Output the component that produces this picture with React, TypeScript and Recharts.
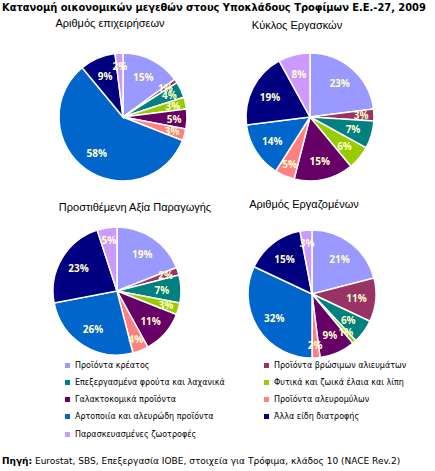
import { PieChart, Pie, Cell } from 'recharts';

const categories = [
  'Προϊόντα κρέατος',
  'Προϊόντα βρώσιμων αλιευμάτων',
  'Επεξεργασμένα φρούτα και λαχανικά',
  'Φυτικά και ζωικά έλαια και λίπη',
  'Γαλακτοκομικά προϊόντα',
  'Προϊόντα αλευρομύλων',
  'Αρτοποιία και αλευρώδη προϊόντα',
  'Άλλα είδη διατροφής',
  'Παρασκευασμένες ζωοτροφές',
];

const colors = ['#9999ff', '#993366', '#008080', '#99cc00', '#660066', '#ff8080', '#0066cc', '#000080', '#cc99ff'];

const firms = [15, 1, 4, 3, 5, 3, 58, 9, 2];
const turnover = [23, 3, 7, 6, 15, 5, 14, 19, 8];
const valueAdded = [19, 2, 7, 3, 11, 4, 26, 23, 5];
const employees = [21, 11, 6, 1, 9, 2, 32, 15, 3];

const panels = [
  { title: 'Αριθμός επιχειρήσεων', values: firms, cx: 118, cy: 112, tx: 110, ty: 23 },
  { title: 'Κύκλος Εργασκών', values: turnover, cx: 305, cy: 112, tx: 297, ty: 25 },
  { title: 'Προστιθέμενη Αξία Παραγωγής', values: valueAdded, cx: 112, cy: 286, tx: 135, ty: 207 },
  { title: 'Αριθμός Εργαζομένων', values: employees, cx: 307, cy: 289, tx: 304, ty: 204 },
];

const RADIAN = Math.PI / 180;
const R = 64;

const renderLabel = (p: any) => {
  // small slices get pushed towards the rim, like Excel's best fit
  const f = p.value <= 5 ? 0.8 : 0.7;
  const r = p.outerRadius * f;
  const x = p.cx + r * Math.cos(-p.midAngle * RADIAN);
  const y = p.cy + r * Math.sin(-p.midAngle * RADIAN);
  return (
    <text
      x={x}
      y={y}
      fill="#ffffcc"
      textAnchor="middle"
      dominantBaseline="central"
      style={{ fontFamily: 'Open Sans', fontWeight: 700, fontSize: 10 }}
    >
      {p.value}%
    </text>
  );
};

export default function App() {
  return (
    <div style={{ position: 'fixed', left: 0, top: 0, width: 435, height: 471, background: '#fff', fontFamily: 'DejaVu Sans' }}>
      <div style={{ position: 'absolute', left: 2, top: 2, fontSize: 9.9, fontWeight: 700, whiteSpace: 'nowrap', color: '#000' }}>
        Κατανομή οικονομικών μεγεθών στους Υποκλάδους Τροφίμων Ε.Ε.-27, 2009
      </div>
      {panels.map((pn) => (
        <div
          key={pn.title}
          style={{
            position: 'absolute',
            left: pn.tx - 100,
            top: pn.ty - 7,
            width: 200,
            textAlign: 'center',
            fontFamily: 'Liberation Sans',
            fontSize: 11,
            lineHeight: '14px',
            whiteSpace: 'nowrap',
          }}
        >
          {pn.title}
        </div>
      ))}
      <div style={{ position: 'absolute', left: 0, top: 0 }}>
        <PieChart width={435} height={360}>
          {panels.map((pn) => (
            <Pie
              key={pn.title}
              data={categories.map((name, i) => ({ name, value: pn.values[i] }))}
              dataKey="value"
              cx={pn.cx}
              cy={pn.cy}
              outerRadius={R}
              startAngle={90}
              endAngle={-270}
              stroke="#fff"
              strokeWidth={1.5}
              label={renderLabel}
              labelLine={false}
              isAnimationActive={false}
            >
              {categories.map((c, i) => (
                <Cell key={c} fill={colors[i]} />
              ))}
            </Pie>
          ))}
        </PieChart>
      </div>
      {categories.map((c, i) => {
        const col = i % 2;
        const row = Math.floor(i / 2);
        return (
          <div
            key={c}
            style={{
              position: 'absolute',
              left: col === 0 ? 65 : 264,
              top: 365 + row * 17.3 - 6,
              height: 12,
              display: 'flex',
              alignItems: 'center',
              fontSize: 8,
              color: '#000',
              whiteSpace: 'nowrap',
            }}
          >
            <span style={{ width: 5, height: 5, background: colors[i], marginRight: 5, display: 'inline-block' }} />
            {c}
          </div>
        );
      })}
      <div style={{ position: 'absolute', left: 2, top: 456, fontSize: 9, whiteSpace: 'nowrap', color: '#000' }}>
        <b>Πηγή:</b> Eurostat, SBS, Επεξεργασία ΙΟΒΕ, στοιχεία για Τρόφιμα, κλάδος 10 (NACE Rev.2)
      </div>
    </div>
  );
}
